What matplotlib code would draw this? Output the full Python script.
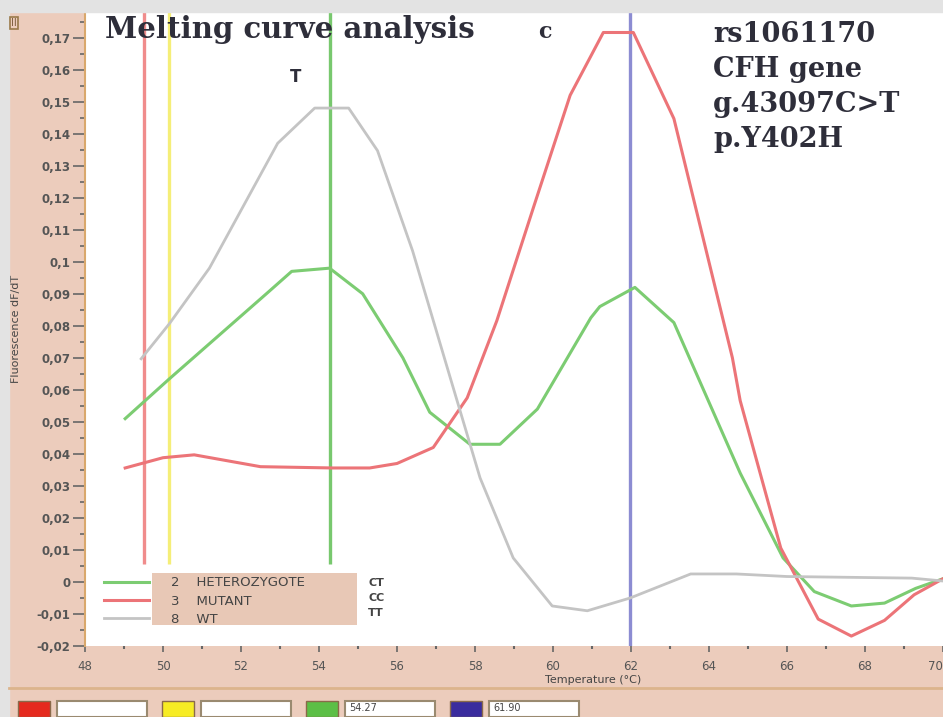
import numpy as np
import matplotlib.pyplot as plt
from matplotlib.patches import Rectangle
from matplotlib.lines import Line2D

# melting curve data (dF/dT)
temp_het = [49.03, 50.16, 52.65, 53.3, 54.27, 55.12, 56.15, 56.84, 57.87, 58.64, 59.6,
            60.97, 61.2, 62.1, 63.1, 64.8, 65.9, 66.7, 67.65, 68.5, 69.3, 70.0]
het = [0.051, 0.0634, 0.090, 0.097, 0.098, 0.090, 0.070, 0.053, 0.043, 0.043, 0.054,
       0.0825, 0.086, 0.092, 0.081, 0.034, 0.0075, -0.003, -0.0075, -0.0066, -0.002, 0.001]

temp_mut = [49.03, 50.0, 50.8, 52.5, 54.35, 55.3, 56.0, 56.93, 57.8, 58.56, 59.5, 60.44,
            61.29, 62.06, 63.1, 64.6, 64.8, 65.84, 66.8, 67.65, 68.5, 69.26, 70.0]
mut = [0.0356, 0.0388, 0.0397, 0.036, 0.0356, 0.0356, 0.037, 0.042, 0.0575, 0.0816, 0.117, 0.152,
       0.1716, 0.1716, 0.1447, 0.070, 0.0566, 0.0106, -0.0116, -0.0169, -0.012, -0.004, 0.001]

temp_wt = [49.44, 50.16, 51.19, 52.94, 53.89, 54.76, 55.5, 56.4, 57.36, 58.13, 58.98, 59.98,
           60.88, 61.98, 63.53, 64.7, 66.0, 69.2, 70.0]
wt = [0.0697, 0.0806, 0.098, 0.137, 0.148, 0.148, 0.1347, 0.1034, 0.064, 0.0325, 0.0075, -0.0075,
      -0.009, -0.005, 0.0025, 0.0025, 0.0017, 0.0012, 0.0003]

marker_temps = [49.5, 50.16, 54.27, 61.97]
marker_cols = ['#f08c8c', '#f5ee78', '#78c86e', '#8c8cd2']
box_cols = ['#e52a1e', '#f7ec24', '#5cbf46', '#3a2c9e']
box_texts = ['', '', '54.27', '61.90']

legend_labels = ['2    HETEROZYGOTE', '3    MUTANT', '8    WT']
genotypes = ['CT', 'CC', 'TT']

yticks = [-0.02, -0.01, 0, 0.01, 0.02, 0.03, 0.04, 0.05, 0.06, 0.07, 0.08, 0.09,
          0.1, 0.11, 0.12, 0.13, 0.14, 0.15, 0.16, 0.17]
ytick_labels = ['-0,02', '-0,01', '0', '0,01', '0,02', '0,03', '0,04', '0,05', '0,06', '0,07',
                '0,08', '0,09', '0,1', '0,11', '0,12', '0,13', '0,14', '0,15', '0,16', '0,17']
xticks = [48, 50, 52, 54, 56, 58, 60, 62, 64, 66, 68, 70]

peach = '#ecccbc'
fig = plt.figure(figsize=(9.43, 7.17), dpi=100, facecolor=peach)

# grey frame strips and bottom separator
fig.patches.append(Rectangle((0, 0), 9 / 943, 1, transform=fig.transFigure, color='#e3e3e3', zorder=0))
fig.patches.append(Rectangle((0, 705 / 717), 1, 12 / 717, transform=fig.transFigure, color='#e3e3e3', zorder=0))
fig.add_artist(Line2D([9 / 943, 1], [29 / 717, 29 / 717], color='#dcb48c', lw=2))

ax = fig.add_axes([85 / 943, 71 / 717, 858 / 943, 634 / 717])
ax.set_facecolor('white')

ax.plot(temp_het, het, color='#7ccc72', lw=2.2, label=legend_labels[0], zorder=3)
ax.plot(temp_mut, mut, color='#ec7478', lw=2.2, label=legend_labels[1], zorder=3)
ax.plot(temp_wt, wt, color='#c4c4c4', lw=2, label=legend_labels[2], zorder=3)

for t, c in zip(marker_temps[:3], marker_cols[:3]):
    ax.vlines(t, 0.0056, 0.2, color=c, lw=2.4, zorder=2)
ax.vlines(marker_temps[3], -0.03, 0.2, color=marker_cols[3], lw=2.4, zorder=2)

ax.set_xlim(48, 70)
ax.set_ylim(-0.02, 0.178)
ax.set_xticks(xticks)
ax.set_xticks(np.arange(49, 70, 2), minor=True)
ax.set_yticks(yticks)
ax.set_yticklabels(ytick_labels)
ax.set_yticks(np.arange(-0.015, 0.176, 0.01), minor=True)
ax.tick_params(axis='y', which='major', length=8.5, width=1.2, color='#666666', pad=2,
               labelsize=8.5, labelcolor='#555555')
ax.tick_params(axis='y', which='minor', length=3.5, width=1.2, color='#666666')
ax.tick_params(axis='x', which='major', length=4, width=1.2, color='#666666', pad=6,
               labelsize=8.5, labelcolor='#555555')
ax.tick_params(axis='x', which='minor', length=2, width=1.5, color='#666666')
for lab in ax.get_yticklabels():
    lab.set_fontweight('bold')
ax.get_xticklabels()[-1].set_horizontalalignment('right')
for s in ['top', 'right', 'bottom']:
    ax.spines[s].set_visible(False)
ax.spines['left'].set_color('#d9a86c')
ax.spines['left'].set_linewidth(1.5)

ax.set_xlabel('Temperature (°C)', fontsize=8, color='#444444')
ax.xaxis.set_label_coords(0.592, -0.045)
ax.set_ylabel('Fluorescence dF/dT', fontsize=8, color='#444444')
ax.yaxis.set_label_coords(-0.075, 0.5)

# legend with peach label box
ax.add_patch(Rectangle((0.078, 0.033), 0.239, 0.082, transform=ax.transAxes,
                       facecolor='#e8c8b6', edgecolor='none', zorder=4))
leg = ax.legend(loc='upper left', bbox_to_anchor=(0.022, 0.11), frameon=False,
                fontsize=9.5, handlelength=3.4, handletextpad=1.7, labelspacing=0.4,
                borderpad=0, borderaxespad=0)
leg.set_zorder(5)
for txt in leg.get_texts():
    txt.set_color('#444444')
for g, yy in zip(genotypes, [0.0994, 0.0757, 0.052]):
    ax.text(0.33, yy, g, transform=ax.transAxes, fontsize=8, fontweight='bold',
            color='#444444', va='center', zorder=5)

# annotations
ax.text(105 / 943, 1 - 38 / 717, 'Melting curve analysis', transform=fig.transFigure,
        family='DejaVu Serif', fontweight='bold', fontsize=21, color='#2e2e3a')
ax.text(538 / 943, 1 - 38 / 717, 'c', transform=fig.transFigure,
        family='DejaVu Serif', fontweight='bold', fontsize=16, color='#2e2e3a')
ax.text(290 / 943, 1 - 82 / 717, 'T', transform=fig.transFigure,
        family='DejaVu Sans', fontweight='bold', fontsize=12, color='#2e2e3a')
for i, line in enumerate(['rs1061170', 'CFH gene', 'g.43097C>T', 'p.Y402H']):
    ax.text(713 / 943, 1 - (42 + 35 * i) / 717, line, transform=fig.transFigure,
            family='DejaVu Serif', fontweight='bold', fontsize=19.5, color='#2e2e3a')

fig.text(11 / 943, 1 - 23 / 717, 'II', fontsize=7, color='#7a5a3a', va='center',
         bbox=dict(boxstyle='square,pad=0.15', facecolor=peach, edgecolor='#9a7a4a', lw=1.2))

# bottom colour boxes with value fields
for i, (c, t) in enumerate(zip(box_cols, box_texts)):
    x0 = 18 + 144 * i
    fig.patches.append(Rectangle((x0 / 943, 0), 32 / 943, 16 / 717, transform=fig.transFigure,
                                 facecolor=c, edgecolor='#8a6a4a', lw=1))
    fig.patches.append(Rectangle(((x0 + 39) / 943, 0), 90 / 943, 16 / 717, transform=fig.transFigure,
                                 facecolor='white', edgecolor='#9a8a70', lw=1.5))
    fig.text((x0 + 43) / 943, 9 / 717, t, fontsize=7, color='#444444', va='center')

plt.savefig('out.png', dpi=100, facecolor=peach)
